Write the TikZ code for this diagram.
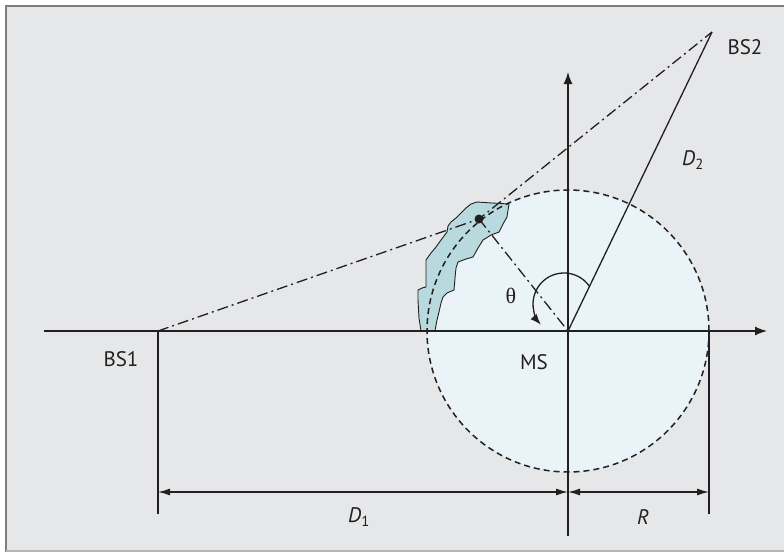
\documentclass[tikz,border=0pt]{standalone}
\usepackage{fontspec}
\setmainfont{PT Sans}
\newfontfamily\thetafont{Liberation Serif}
\usetikzlibrary{arrows.meta,calc}
\definecolor{bggray}{HTML}{E6E7E8}
\definecolor{framegray}{HTML}{7F7F80}
\definecolor{framelight}{HTML}{B4B5B7}
\definecolor{circfill}{HTML}{EAF3F7}
\definecolor{blobfill}{HTML}{B8DADF}
\definecolor{ink}{HTML}{231F20}
\tikzset{
  axisline/.style={draw=ink, line width=1.4pt, -{Latex[length=12pt,width=9pt]}},
  plainline/.style={draw=ink, line width=1.3pt},
  dimline/.style={draw=ink, line width=1.3pt, {Latex[length=12pt,width=7pt]}-{Latex[length=12pt,width=7pt]}},
  dashdot/.style={draw=ink, line width=1.3pt, dash pattern=on 11pt off 4pt on 2pt off 4pt},
  circdash/.style={draw=ink, line width=1.5pt, dash pattern=on 6pt off 4pt},
  lbl/.style={font=\fontsize{21}{23}\selectfont, text=ink, inner sep=0pt},
}
\begin{document}
\begin{tikzpicture}[x=1pt,y=1pt,yscale=-1]
\useasboundingbox (0,0) rectangle (784,552);
\fill[white] (0,0) rectangle (784,552);
\fill[bggray] (6,6) rectangle (784,552);
\draw[framegray, line width=2pt] (6,552) -- (6,6) -- (784,6);
\draw[framelight, line width=1.5pt] (6,551) -- (784,551);

\coordinate (MS) at (568,331);
\coordinate (BS1) at (158,331);
\coordinate (BS2) at (712,32);
\coordinate (P) at (479,219);
\coordinate (axL) at (44,331);
\coordinate (axR) at (767,331);
\coordinate (axT) at (568,72);
\coordinate (axB) at (568,536);
\coordinate (B1low) at (158,514);
\coordinate (Rtop) at (709,331);
\coordinate (Rlow) at (709,514);
\coordinate (D1a) at (158,492);
\coordinate (D1b) at (568,492);
\coordinate (Rb) at (709,492);
\coordinate (thC) at (564,304);
\coordinate (thS) at ($(thC)+(-35:31pt)$);

% circle fill
\fill[circfill] (MS) circle[radius=141pt];

% blob
\filldraw[fill=blobfill, draw=ink, line width=0.9pt]
 (477,202) -- (492,203) -- (509,204) -- (508,210) -- (507,217) -- (503,224) -- (499,232)
 -- (491,235) -- (483,240) -- (478,248) -- (473,257) -- (466,259) -- (458,262) -- (456,268)
 -- (455,278) -- (454,290) -- (447,293) -- (443,297) -- (441,303) -- (439,312) -- (437,320)
 -- (435,331) -- (421,331) -- (419,318) -- (418,300) -- (418,290) -- (422,288) -- (426,287)
 -- (426,275) -- (426,260) -- (431,253) -- (436,247) -- (441,240) -- (447,232) -- (448,226)
 -- (451,222) -- (456,218) -- (461,213) -- (466,208) -- (471,204) -- cycle;

% circle outline
\draw[circdash] (MS) circle[radius=141pt];

% axes
\draw[axisline] (axL) -- (axR);
\draw[axisline] (axB) -- (axT);

% extension lines
\draw[plainline] (BS1) -- (B1low);
\draw[plainline] (Rtop) -- (Rlow);

% dimension arrows
\draw[dimline] (D1a) -- (D1b);
\draw[dimline] (D1b) -- (Rb);

% lines
\draw[plainline] (MS) -- (BS2);
\draw[dashdot] (BS1) -- (P) -- (BS2);
\draw[dashdot] (P) -- (MS);
\fill[ink] (P) circle[radius=4.5pt];

% theta arc
\draw[ink, line width=1.3pt, -{Latex[length=11pt,width=8pt]}]
  (thS) arc[start angle=-35, end angle=-222, radius=31pt];

% labels
\node[lbl] (lBS1) at (121,359) {BS1};
\node[lbl] (lMS) at (534,362) {MS};
\node[lbl] (lBS2) at (745,47) {BS2};
\node[lbl] (lD2) at (693,160) {\textit{D}\textsubscript{2}};
\node[lbl] (lD1) at (359,517) {\textit{D}\textsubscript{1}};
\node[lbl] (lR) at (643,517) {\textit{R}};
\node[lbl, font=\thetafont\fontsize{22}{24}\selectfont] (lth) at (511,296) {θ};
\end{tikzpicture}
\end{document}
